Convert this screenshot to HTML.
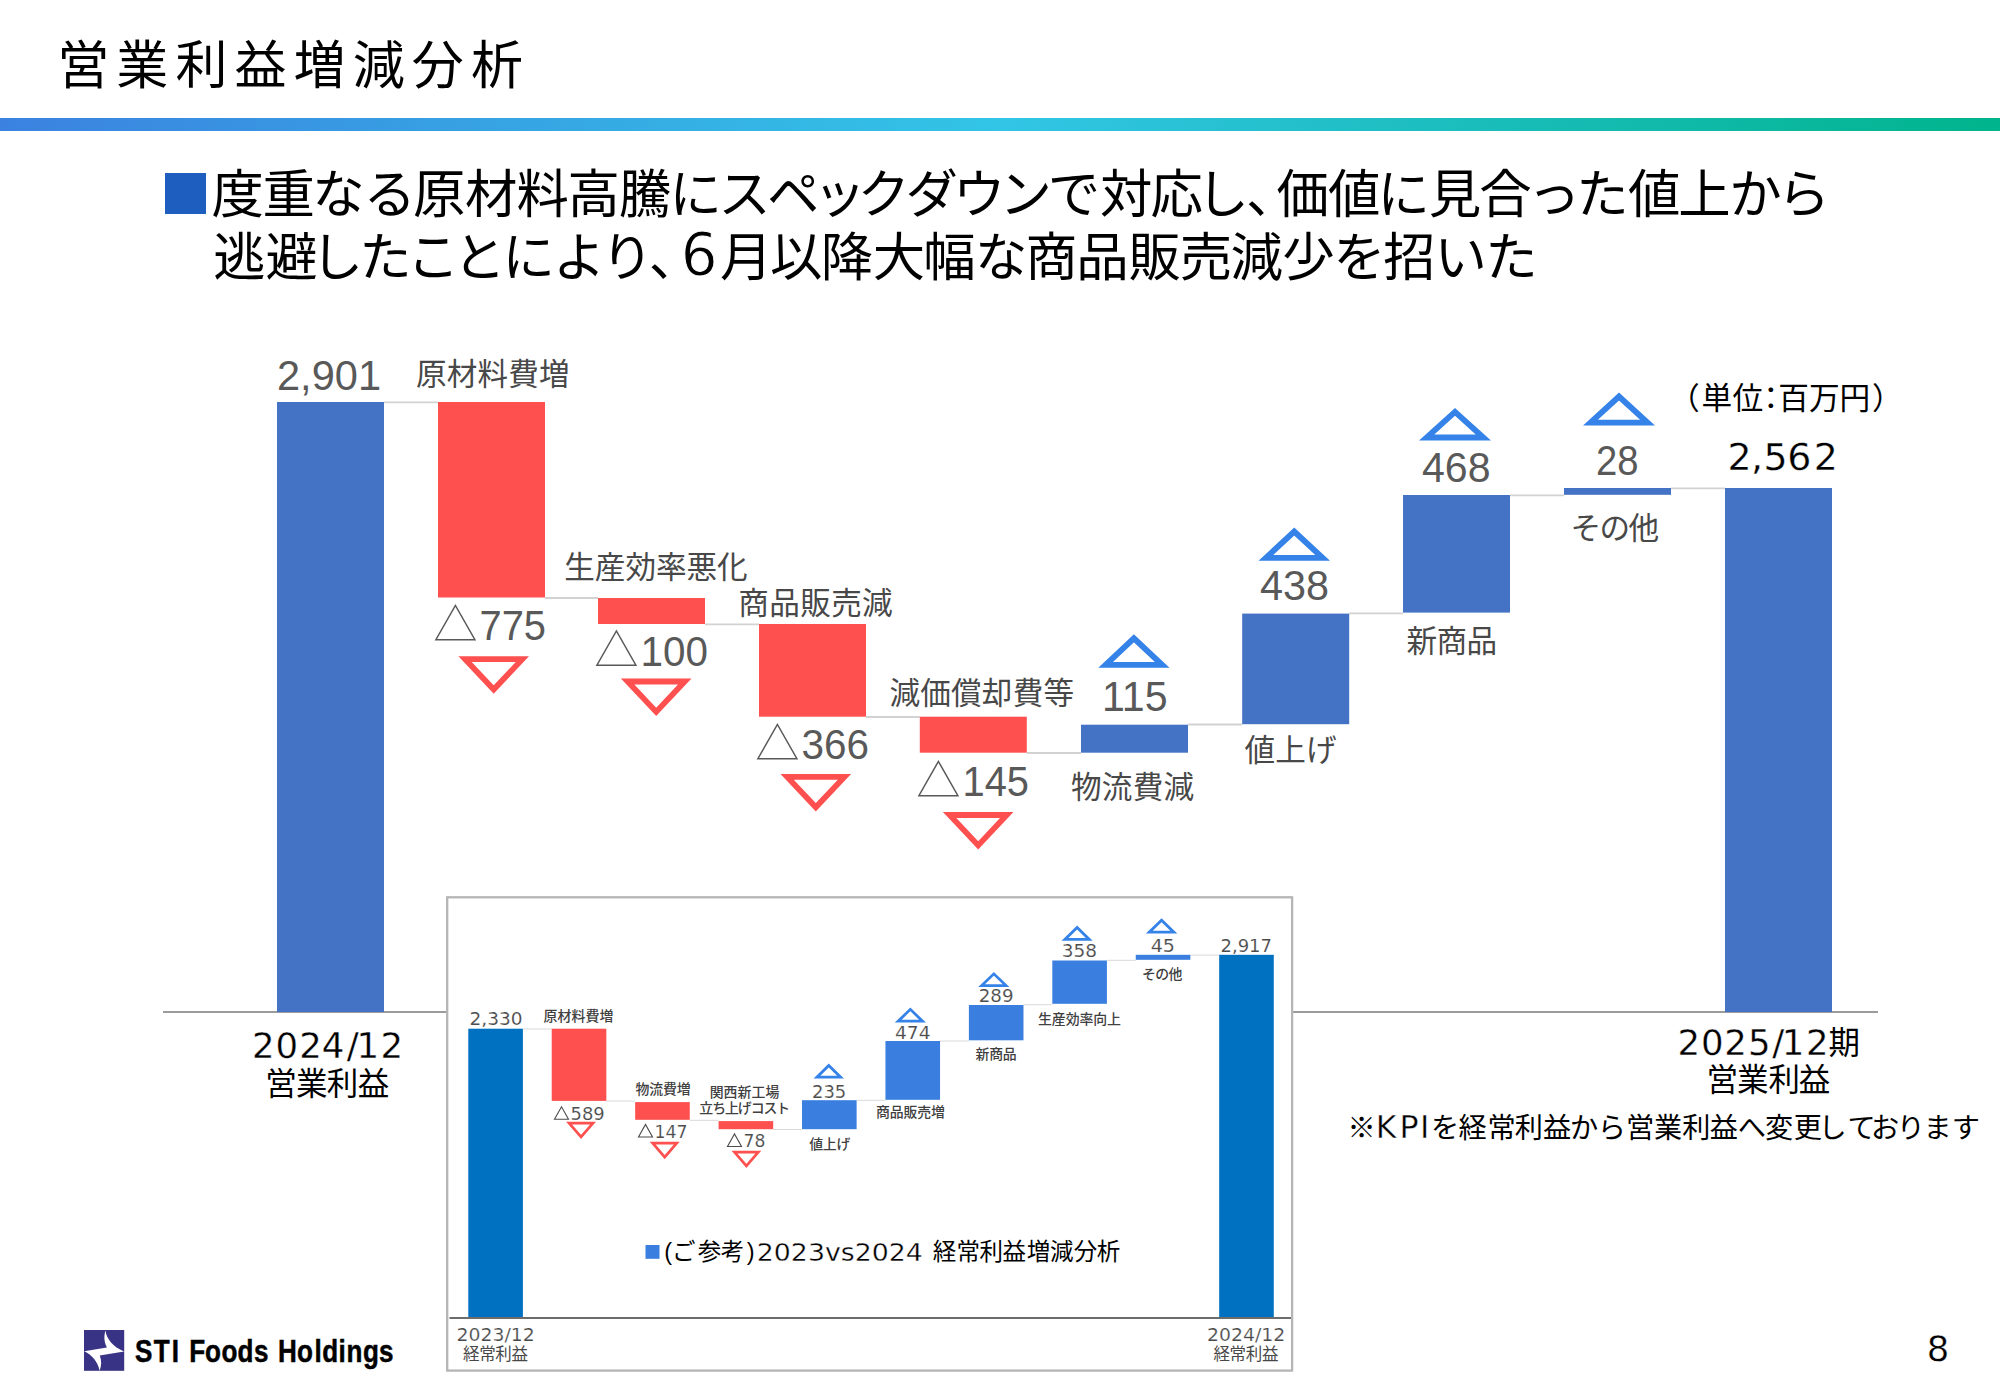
<!DOCTYPE html>
<html lang="ja"><head><meta charset="utf-8"><title>営業利益増減分析</title>
<style>
html,body{margin:0;padding:0;background:#fff;}
body{width:2000px;height:1385px;overflow:hidden;font-family:'Liberation Sans','Noto Sans CJK JP',sans-serif;}
svg{display:block;}
text{white-space:pre;}
</style></head><body>
<svg width="2000" height="1385" viewBox="0 0 2000 1385">
<defs><linearGradient id="g" x1="0" x2="1" y1="0" y2="0"><stop offset="0" stop-color="#3b82e0"/><stop offset="0.5" stop-color="#32c5e6"/><stop offset="1" stop-color="#00b48c"/></linearGradient></defs>
<rect x="0" y="118" width="2000" height="13" fill="url(#g)" />
<text x="57.2" y="84" font-size="52" fill="#000" font-family="'Liberation Sans','Noto Sans CJK JP',sans-serif" letter-spacing="7.1">営業利益増減分析</text>
<rect x="165" y="173" width="41" height="41" fill="#1e5ebe" />
<text x="211.4 262.4 312.2 363.6 413.0 465.0 516.4 567.5 619.0 669.5 718.2 767.1 813.6 857.5 905.5 952.9 999.4 1047.7 1099.9 1150.4 1196.6 1245.9 1276.5 1328.0 1377.4 1428.8 1479.3 1527.9 1576.2 1628.0 1678.3 1729.3 1777.8" y="213.2" font-size="52.4" fill="#000" font-family="'Liberation Sans','Noto Sans CJK JP',sans-serif">度重なる原材料高騰にスペックダウンで対応し、価値に見合った値上から</text>
<text x="213.3 265.5 310.7 359.2 407.0 453.3 502.5 553.1 600.9 648.7" y="275.9" font-size="52.4" fill="#000" font-family="'Liberation Sans','Noto Sans CJK JP',sans-serif">逃避したことにより、</text>
<text x="680.8" y="275.3" font-size="58" fill="#000" font-family="'DejaVu Sans','Noto Sans CJK JP',sans-serif" stroke="#fff" stroke-width="1.0">6</text>
<text x="719.9 770.1 820.8 872.8 923.2 974.9 1025.3 1076.2 1128.6 1179.8 1230.5 1282.3 1333.3 1383.3 1434.6 1485.2" y="275.9" font-size="52.4" fill="#000" font-family="'Liberation Sans','Noto Sans CJK JP',sans-serif">月以降大幅な商品販売減少を招いた</text>
<line x1="163" y1="1012" x2="1878" y2="1012" stroke="#9c9c9c" stroke-width="2.1"/>
<line x1="384" y1="402.3" x2="438" y2="402.3" stroke="#d2d2d2" stroke-width="1.8"/>
<line x1="545" y1="598.0" x2="598" y2="598.0" stroke="#d2d2d2" stroke-width="1.8"/>
<line x1="705" y1="624.3" x2="759" y2="624.3" stroke="#d2d2d2" stroke-width="1.8"/>
<line x1="866" y1="717.0" x2="919.8" y2="717.0" stroke="#d2d2d2" stroke-width="1.8"/>
<line x1="1026.8" y1="753.0" x2="1081" y2="753.0" stroke="#d2d2d2" stroke-width="1.8"/>
<line x1="1188" y1="724.5" x2="1242.2" y2="724.5" stroke="#d2d2d2" stroke-width="1.8"/>
<line x1="1349.2" y1="613.3" x2="1403" y2="613.3" stroke="#d2d2d2" stroke-width="1.8"/>
<line x1="1510" y1="495.3" x2="1564" y2="495.3" stroke="#d2d2d2" stroke-width="1.8"/>
<line x1="1671" y1="488.3" x2="1725" y2="488.3" stroke="#d2d2d2" stroke-width="1.8"/>
<rect x="277" y="402" width="107" height="610" fill="#4472c4" />
<rect x="438" y="402" width="107" height="195.5" fill="#ff5050" />
<rect x="598" y="598" width="107" height="26" fill="#ff5050" />
<rect x="759" y="624" width="107" height="92.7" fill="#ff5050" />
<rect x="919.8" y="716.7" width="107" height="36.0" fill="#ff5050" />
<rect x="1081" y="724.7" width="107" height="28.0" fill="#4472c4" />
<rect x="1242.2" y="613.6" width="107" height="110.6" fill="#4472c4" />
<rect x="1403" y="495" width="107" height="117.6" fill="#4472c4" />
<rect x="1564" y="488" width="107" height="6.8" fill="#4472c4" />
<rect x="1725" y="488" width="107" height="524" fill="#4472c4" />
<text x="277" y="390" font-size="42.0" fill="#595959" font-family="'Liberation Sans',sans-serif" textLength="104" lengthAdjust="spacingAndGlyphs">2,901</text>
<text x="416" y="384.7" font-size="30.6" fill="#484848" font-family="'Liberation Sans','Noto Sans CJK JP',sans-serif" textLength="153.5" lengthAdjust="spacing">原材料費増</text>
<text x="564.3" y="577.5" font-size="30.6" fill="#484848" font-family="'Liberation Sans','Noto Sans CJK JP',sans-serif" textLength="183.4" lengthAdjust="spacing">生産効率悪化</text>
<text x="738.3" y="613.5" font-size="30.6" fill="#484848" font-family="'Liberation Sans','Noto Sans CJK JP',sans-serif" textLength="154.4" lengthAdjust="spacing">商品販売減</text>
<text x="889.5" y="704" font-size="30.6" fill="#484848" font-family="'Liberation Sans','Noto Sans CJK JP',sans-serif" textLength="184.5" lengthAdjust="spacing">減価償却費等</text>
<text x="1071" y="797.7" font-size="30.6" fill="#484848" font-family="'Liberation Sans','Noto Sans CJK JP',sans-serif" textLength="123.2" lengthAdjust="spacing">物流費減</text>
<text x="1244.5" y="761.2" font-size="30.6" fill="#484848" font-family="'Liberation Sans','Noto Sans CJK JP',sans-serif" textLength="92.0" lengthAdjust="spacing">値上げ</text>
<text x="1406.5" y="651.5" font-size="30.6" fill="#484848" font-family="'Liberation Sans','Noto Sans CJK JP',sans-serif" textLength="90.5" lengthAdjust="spacing">新商品</text>
<text x="1570.5" y="539" font-size="30.6" fill="#484848" font-family="'Liberation Sans','Noto Sans CJK JP',sans-serif" textLength="88.5" lengthAdjust="spacing">その他</text>
<path d="M435.9 639.7L474.9 639.7L455.4 605.4Z" fill="none" stroke="#595959" stroke-width="1.5"/>
<text x="479.5" y="640" font-size="42.0" fill="#595959" font-family="'Liberation Sans',sans-serif" textLength="66.5" lengthAdjust="spacingAndGlyphs">775</text>
<path d="M596.9 665.2L635.9 665.2L616.4 630.9Z" fill="none" stroke="#595959" stroke-width="1.5"/>
<text x="640.5" y="665.5" font-size="42.0" fill="#595959" font-family="'Liberation Sans',sans-serif" textLength="67.5" lengthAdjust="spacingAndGlyphs">100</text>
<path d="M757.9 758.7L796.9 758.7L777.4 724.4Z" fill="none" stroke="#595959" stroke-width="1.5"/>
<text x="801.5" y="759" font-size="42.0" fill="#595959" font-family="'Liberation Sans',sans-serif" textLength="67.5" lengthAdjust="spacingAndGlyphs">366</text>
<path d="M918.9 795.7L957.9 795.7L938.4 761.4Z" fill="none" stroke="#595959" stroke-width="1.5"/>
<text x="962.5" y="796" font-size="42.0" fill="#595959" font-family="'Liberation Sans',sans-serif" textLength="66.5" lengthAdjust="spacingAndGlyphs">145</text>
<text x="1102" y="710.5" font-size="42.0" fill="#595959" font-family="'Liberation Sans',sans-serif" textLength="65.5" lengthAdjust="spacingAndGlyphs">115</text>
<text x="1260" y="600" font-size="42.0" fill="#595959" font-family="'Liberation Sans',sans-serif" textLength="69" lengthAdjust="spacingAndGlyphs">438</text>
<text x="1422" y="481.5" font-size="42.0" fill="#595959" font-family="'Liberation Sans',sans-serif" textLength="68.5" lengthAdjust="spacingAndGlyphs">468</text>
<text x="1596" y="474.5" font-size="42.0" fill="#595959" font-family="'Liberation Sans',sans-serif" textLength="42.5" lengthAdjust="spacingAndGlyphs">28</text>
<path d="M465.11 659.20L522.29 659.20L493.70 689.57Z" fill="none" stroke="#ff5050" stroke-width="5.8" stroke-linejoin="miter"/>
<path d="M627.61 681.50L684.79 681.50L656.20 711.87Z" fill="none" stroke="#ff5050" stroke-width="5.8" stroke-linejoin="miter"/>
<path d="M787.21 776.90L844.39 776.90L815.80 807.27Z" fill="none" stroke="#ff5050" stroke-width="5.8" stroke-linejoin="miter"/>
<path d="M949.61 815.00L1006.79 815.00L978.20 845.37Z" fill="none" stroke="#ff5050" stroke-width="5.8" stroke-linejoin="miter"/>
<path d="M1105.63 664.80L1162.17 664.80L1133.90 638.28Z" fill="none" stroke="#3583e8" stroke-width="5.8" stroke-linejoin="miter"/>
<path d="M1265.88 557.90L1322.62 557.90L1294.25 531.56Z" fill="none" stroke="#3583e8" stroke-width="5.8" stroke-linejoin="miter"/>
<path d="M1426.56 437.50L1483.44 437.50L1455.00 411.90Z" fill="none" stroke="#3583e8" stroke-width="5.8" stroke-linejoin="miter"/>
<path d="M1590.46 422.70L1647.54 422.70L1619.00 396.53Z" fill="none" stroke="#3583e8" stroke-width="5.8" stroke-linejoin="miter"/>
<text x="1669.1 1701.4 1732.4 1755.5 1778.2 1809.1 1839.5 1871.9" y="409.1" font-size="30.7" fill="#000" font-family="'Liberation Sans','Noto Sans CJK JP',sans-serif">（単位：百万円）</text>
<text x="1727.4 1751.1 1763.4 1787.3 1813.7" y="470" font-size="37.9" fill="#000" font-family="'DejaVu Sans','Noto Sans CJK JP',sans-serif" stroke="#fff" stroke-width="0.3">2,562</text>
<text x="252.1 275.5 299.2 321.7 346.8 356.5 380.5" y="1058" font-size="35.5" fill="#000" font-family="'DejaVu Sans','Noto Sans CJK JP',sans-serif" stroke="#fff" stroke-width="0.3">2024/12</text>
<text x="265.3 295.9 326.8 357.7" y="1094.6" font-size="31.5" fill="#000" font-family="'Liberation Sans','Noto Sans CJK JP',sans-serif">営業利益</text>
<text x="1677.5 1701.1 1724.2 1748.0 1772.3 1781.7 1806.0" y="1055.1" font-size="35.5" fill="#000" font-family="'DejaVu Sans','Noto Sans CJK JP',sans-serif" stroke="#fff" stroke-width="0.3">2025/12</text>
<text x="1828.5" y="1054.2" font-size="31.5" fill="#000" font-family="'Liberation Sans','Noto Sans CJK JP',sans-serif">期</text>
<text x="1706.5 1737.0 1768.4 1798.7" y="1090.6" font-size="31.5" fill="#000" font-family="'Liberation Sans','Noto Sans CJK JP',sans-serif">営業利益</text>
<text x="1347.5" y="1138.2" font-size="28.2" fill="#000" font-family="'Liberation Sans','Noto Sans CJK JP',sans-serif">※</text>
<text x="1375.8 1399.4 1419.9" y="1138.3" font-size="31.7" fill="#000" font-family="'DejaVu Sans','Noto Sans CJK JP',sans-serif" stroke="#fff" stroke-width="0.4">KPI</text>
<text x="1431.0 1458.5 1487.5 1514.8 1542.9 1569.9 1597.7 1626.1 1654.1 1682.2 1709.8 1737.8 1765.0 1793.8 1818.5 1847.6 1871.0 1896.8 1923.4 1951.7" y="1138.2" font-size="28.2" fill="#000" font-family="'Liberation Sans','Noto Sans CJK JP',sans-serif">を経常利益から営業利益へ変更しております</text>
<text x="1926.7" y="1360.6" font-size="35.4" fill="#000" font-family="'DejaVu Sans','Noto Sans CJK JP',sans-serif" stroke="#fff" stroke-width="0.3">8</text>
<rect x="447.2" y="897.3" width="844.9" height="473.3" fill="#fff" stroke="#b5b5b5" stroke-width="2.3"/>
<line x1="522.9" y1="1029.0" x2="551.73" y2="1029.0" stroke="#d9d9d9" stroke-width="1"/>
<line x1="606.33" y1="1101.0" x2="635.1600000000001" y2="1101.0" stroke="#d9d9d9" stroke-width="1"/>
<line x1="689.7600000000001" y1="1120.3" x2="718.59" y2="1120.3" stroke="#d9d9d9" stroke-width="1"/>
<line x1="773.19" y1="1129.5" x2="802.02" y2="1129.5" stroke="#d9d9d9" stroke-width="1"/>
<line x1="856.62" y1="1100.3" x2="885.45" y2="1100.3" stroke="#d9d9d9" stroke-width="1"/>
<line x1="940.0500000000001" y1="1041.0" x2="968.8800000000001" y2="1041.0" stroke="#d9d9d9" stroke-width="1"/>
<line x1="1023.4800000000001" y1="1004.6999999999999" x2="1052.31" y2="1004.6999999999999" stroke="#d9d9d9" stroke-width="1"/>
<line x1="1106.9099999999999" y1="960.3" x2="1135.74" y2="960.3" stroke="#d9d9d9" stroke-width="1"/>
<line x1="1190.34" y1="955.0999999999999" x2="1219.17" y2="955.0999999999999" stroke="#d9d9d9" stroke-width="1"/>
<rect x="468.3" y="1028.7" width="54.6" height="288.3" fill="#0070c0" />
<rect x="551.73" y="1028.7" width="54.6" height="72.2" fill="#ff5050" />
<rect x="635.16" y="1102.1" width="54.6" height="17.7" fill="#ff5050" />
<rect x="718.59" y="1121.1" width="54.6" height="8.1" fill="#ff5050" />
<rect x="802.02" y="1100.2" width="54.6" height="29.0" fill="#3a7fe0" />
<rect x="885.45" y="1041" width="54.6" height="58.8" fill="#3a7fe0" />
<rect x="968.88" y="1005" width="54.6" height="35.3" fill="#3a7fe0" />
<rect x="1052.31" y="960.5" width="54.6" height="43.3" fill="#3a7fe0" />
<rect x="1135.74" y="954.8" width="54.6" height="5.0" fill="#3a7fe0" />
<rect x="1219.17" y="954.8" width="54.6" height="362.2" fill="#0070c0" />
<line x1="449.5" y1="1318" x2="1291" y2="1318" stroke="#6c6c6c" stroke-width="2.2"/>
<text x="469.5" y="1025.3" font-size="18" fill="#4c4c4c" font-family="'DejaVu Sans','Noto Sans CJK JP',sans-serif" textLength="53.0" lengthAdjust="spacingAndGlyphs" stroke="#fff" stroke-width="0.12">2,330</text>
<text x="1220.5" y="951.8" font-size="18" fill="#4c4c4c" font-family="'DejaVu Sans','Noto Sans CJK JP',sans-serif" textLength="51.5" lengthAdjust="spacingAndGlyphs" stroke="#fff" stroke-width="0.12">2,917</text>
<text x="543.5" y="1021.0" font-size="13.9" fill="#404040" font-family="'Liberation Sans','Noto Sans CJK JP',sans-serif" textLength="69.8" lengthAdjust="spacing" font-weight="500">原材料費増</text>
<text x="635.5" y="1094.4" font-size="13.9" fill="#404040" font-family="'Liberation Sans','Noto Sans CJK JP',sans-serif" textLength="55.2" lengthAdjust="spacing" font-weight="500">物流費増</text>
<text x="709.7" y="1096.7" font-size="13.9" fill="#404040" font-family="'Liberation Sans','Noto Sans CJK JP',sans-serif" textLength="69.6" lengthAdjust="spacing" font-weight="500">関西新工場</text>
<text x="699.3" y="1113.4" font-size="13.9" fill="#404040" font-family="'Liberation Sans','Noto Sans CJK JP',sans-serif" textLength="90.9" lengthAdjust="spacing" font-weight="500">立ち上げコスト</text>
<text x="809.3" y="1149.4" font-size="13.9" fill="#404040" font-family="'Liberation Sans','Noto Sans CJK JP',sans-serif" textLength="41.0" lengthAdjust="spacing" font-weight="500">値上げ</text>
<text x="876" y="1117.0" font-size="13.9" fill="#404040" font-family="'Liberation Sans','Noto Sans CJK JP',sans-serif" textLength="69" lengthAdjust="spacing" font-weight="500">商品販売増</text>
<text x="975.5" y="1059.2" font-size="13.9" fill="#404040" font-family="'Liberation Sans','Noto Sans CJK JP',sans-serif" textLength="41.2" lengthAdjust="spacing" font-weight="500">新商品</text>
<text x="1038" y="1024.0" font-size="13.9" fill="#404040" font-family="'Liberation Sans','Noto Sans CJK JP',sans-serif" textLength="83" lengthAdjust="spacing" font-weight="500">生産効率向上</text>
<text x="1142" y="979.2" font-size="13.9" fill="#404040" font-family="'Liberation Sans','Noto Sans CJK JP',sans-serif" textLength="40.5" lengthAdjust="spacing" font-weight="500">その他</text>
<path d="M554.5 1119.3L568.5 1119.3L561.5 1106.8Z" fill="none" stroke="#4c4c4c" stroke-width="1.1"/>
<text x="570.5" y="1119.8" font-size="18" fill="#4c4c4c" font-family="'DejaVu Sans','Noto Sans CJK JP',sans-serif" textLength="34.2" lengthAdjust="spacingAndGlyphs" stroke="#fff" stroke-width="0.12">589</text>
<path d="M638.5 1137.0L652.5 1137.0L645.5 1124.5Z" fill="none" stroke="#4c4c4c" stroke-width="1.1"/>
<text x="654.5" y="1137.5" font-size="18" fill="#4c4c4c" font-family="'DejaVu Sans','Noto Sans CJK JP',sans-serif" textLength="33.0" lengthAdjust="spacingAndGlyphs" stroke="#fff" stroke-width="0.12">147</text>
<path d="M727.5 1146.5L741.5 1146.5L734.5 1134Z" fill="none" stroke="#4c4c4c" stroke-width="1.1"/>
<text x="743.5" y="1147" font-size="18" fill="#4c4c4c" font-family="'DejaVu Sans','Noto Sans CJK JP',sans-serif" textLength="21.8" lengthAdjust="spacingAndGlyphs" stroke="#fff" stroke-width="0.12">78</text>
<text x="812" y="1097.8" font-size="18" fill="#4c4c4c" font-family="'DejaVu Sans','Noto Sans CJK JP',sans-serif" textLength="34.3" lengthAdjust="spacingAndGlyphs" stroke="#fff" stroke-width="0.12">235</text>
<text x="895" y="1038.5" font-size="18" fill="#4c4c4c" font-family="'DejaVu Sans','Noto Sans CJK JP',sans-serif" textLength="35.5" lengthAdjust="spacingAndGlyphs" stroke="#fff" stroke-width="0.12">474</text>
<text x="978.7" y="1002.3" font-size="18" fill="#4c4c4c" font-family="'DejaVu Sans','Noto Sans CJK JP',sans-serif" textLength="34.8" lengthAdjust="spacingAndGlyphs" stroke="#fff" stroke-width="0.12">289</text>
<text x="1061.8" y="957.4" font-size="18" fill="#4c4c4c" font-family="'DejaVu Sans','Noto Sans CJK JP',sans-serif" textLength="35.2" lengthAdjust="spacingAndGlyphs" stroke="#fff" stroke-width="0.12">358</text>
<text x="1150.7" y="951.8" font-size="18" fill="#4c4c4c" font-family="'DejaVu Sans','Noto Sans CJK JP',sans-serif" textLength="24.3" lengthAdjust="spacingAndGlyphs" stroke="#fff" stroke-width="0.12">45</text>
<path d="M569.06 1123.15L593.04 1123.15L581.05 1136.94Z" fill="none" stroke="#ff5050" stroke-width="2.7" stroke-linejoin="miter"/>
<path d="M652.65 1143.15L676.75 1143.15L664.70 1157.13Z" fill="none" stroke="#ff5050" stroke-width="2.7" stroke-linejoin="miter"/>
<path d="M734.46 1152.15L758.34 1152.15L746.40 1165.94Z" fill="none" stroke="#ff5050" stroke-width="2.7" stroke-linejoin="miter"/>
<path d="M816.90 1077.20L840.60 1077.20L828.75 1065.47Z" fill="none" stroke="#3583e8" stroke-width="2.8" stroke-linejoin="miter"/>
<path d="M898.15 1021.20L922.55 1021.20L910.35 1009.35Z" fill="none" stroke="#3583e8" stroke-width="2.8" stroke-linejoin="miter"/>
<path d="M981.67 985.60L1006.03 985.60L993.85 973.85Z" fill="none" stroke="#3583e8" stroke-width="2.8" stroke-linejoin="miter"/>
<path d="M1064.93 939.40L1089.27 939.40L1077.10 927.46Z" fill="none" stroke="#3583e8" stroke-width="2.8" stroke-linejoin="miter"/>
<path d="M1149.25 932.20L1173.85 932.20L1161.55 920.25Z" fill="none" stroke="#3583e8" stroke-width="2.8" stroke-linejoin="miter"/>
<rect x="645.5" y="1245" width="14" height="13.8" fill="#3a7fe0" />
<text x="664.2" y="1260.2" font-size="23.5" fill="#000" font-family="'Liberation Sans','Noto Sans CJK JP',sans-serif">(</text>
<text x="672.0 697.8 720.7" y="1260.4" font-size="23.5" fill="#000" font-family="'Liberation Sans','Noto Sans CJK JP',sans-serif">ご参考</text>
<text x="746.7" y="1260.2" font-size="23.5" fill="#000" font-family="'Liberation Sans','Noto Sans CJK JP',sans-serif">)</text>
<text x="756.8" y="1261.2" font-size="25.4" fill="#000" font-family="'DejaVu Sans','Noto Sans CJK JP',sans-serif" textLength="166" lengthAdjust="spacingAndGlyphs" stroke="#fff" stroke-width="0.35">2023vs2024</text>
<text x="932.7 956.6 979.5 1002.6 1026.8 1050.0 1073.8 1096.8" y="1260.4" font-size="23.5" fill="#000" font-family="'Liberation Sans','Noto Sans CJK JP',sans-serif">経常利益増減分析</text>
<text x="456.6" y="1340.8" font-size="18.4" fill="#484848" font-family="'DejaVu Sans','Noto Sans CJK JP',sans-serif" textLength="78.2" lengthAdjust="spacingAndGlyphs" stroke="#fff" stroke-width="0.2">2023/12</text>
<text x="463" y="1360.2" font-size="16.5" fill="#484848" font-family="'Liberation Sans','Noto Sans CJK JP',sans-serif" textLength="65" lengthAdjust="spacing">経常利益</text>
<text x="1207" y="1340.8" font-size="18.4" fill="#484848" font-family="'DejaVu Sans','Noto Sans CJK JP',sans-serif" textLength="78.2" lengthAdjust="spacingAndGlyphs" stroke="#fff" stroke-width="0.2">2024/12</text>
<text x="1213.4" y="1360.2" font-size="16.5" fill="#484848" font-family="'Liberation Sans','Noto Sans CJK JP',sans-serif" textLength="65" lengthAdjust="spacing">経常利益</text>
<rect x="84" y="1330" width="40.2" height="40.8" fill="#383384" />
<path d="M105.5 1330.6C106.5 1339 113 1347 124.1 1351.4L99.8 1355.6C101.8 1361 101.5 1366 99.6 1370.7C98 1362 92 1355 84.2 1351.3L106.9 1347.4C104 1342 103.8 1336 105.5 1330.6Z" fill="#fff"/>
<text x="164.6 187.6 209.5" y="1362.2" font-size="31.8" fill="#000" font-family="'Liberation Sans',sans-serif" font-weight="bold" transform="scale(0.82,1)" stroke="#000" stroke-width="0.5">STI</text>
<text x="230.8 249.9 270.1 289.6 309.7" y="1362.2" font-size="31.8" fill="#000" font-family="'Liberation Sans',sans-serif" font-weight="bold" transform="scale(0.82,1)" stroke="#000" stroke-width="0.5">Foods</text>
<text x="339.0 362.3 383.7 392.9 412.9 422.5 442.6 462.2" y="1362.2" font-size="31.8" fill="#000" font-family="'Liberation Sans',sans-serif" font-weight="bold" transform="scale(0.82,1)" stroke="#000" stroke-width="0.5">Holdings</text>
</svg>
</body></html>
